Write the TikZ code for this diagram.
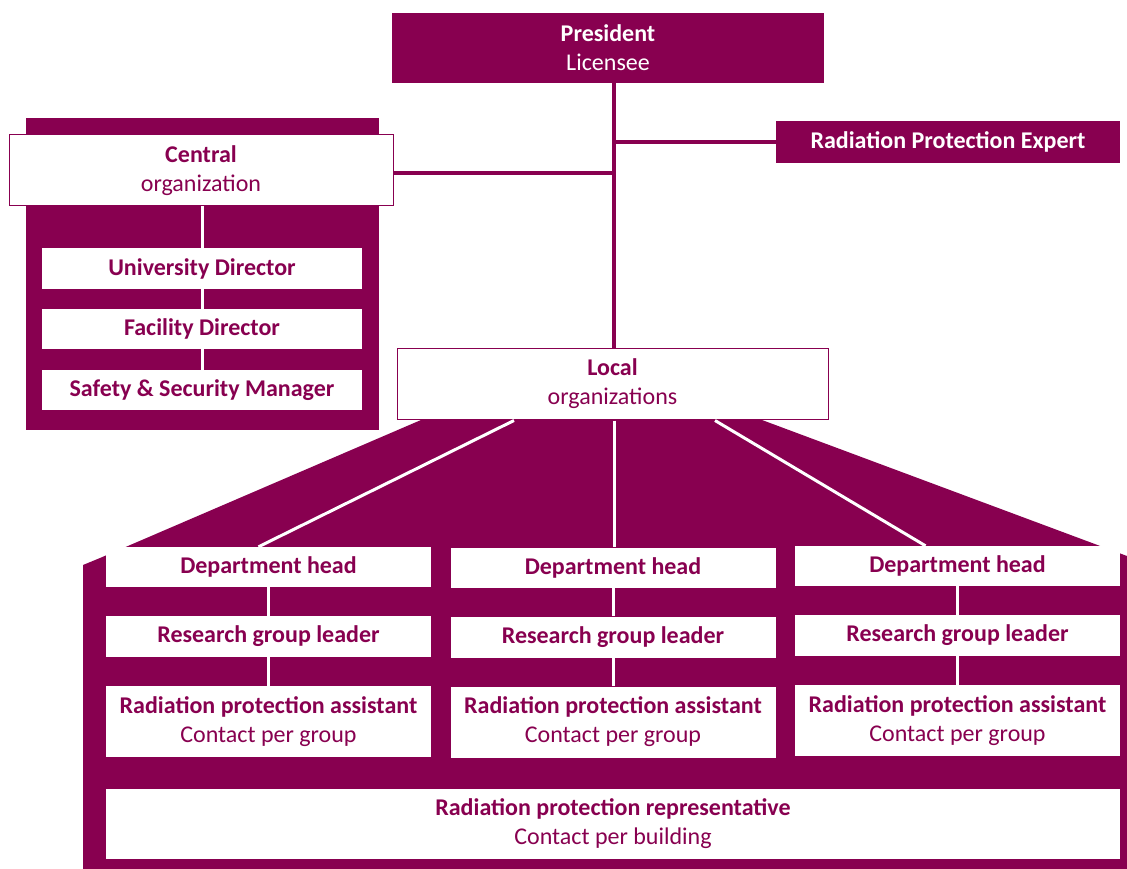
\documentclass[tikz,border=0pt]{standalone}
\usepackage{fontspec}
\setmainfont{Carlito}
\usetikzlibrary{calc}
\definecolor{plum}{RGB}{136,0,80}
\tikzset{
  darkbox/.style={fill=plum, text=white, inner sep=0pt, align=center, font=\fontsize{24}{29}\selectfont},
  whitebox/.style={fill=white, text=plum, inner sep=0pt, align=center, font=\fontsize{24}{29}\selectfont},
  framed/.style={whitebox, draw=plum, line width=1pt},
  darkline/.style={draw=plum, line width=4pt},
  whiteline/.style={draw=white, line width=3pt},
}
\begin{document}
\begin{tikzpicture}[x=1pt,y=-1pt]
\useasboundingbox (0,0) rectangle (1127,869);
% fan + bottom panel
\fill[plum] (83,869) -- (83,565) -- (100,558) -- (421,420) -- (762,420) -- (1127,556) -- (1127,869) -- cycle;
% central panel
\fill[plum] (26,118) rectangle (379,430);

\node[darkbox, minimum width=432pt, minimum height=70pt] (pres) at (608,48) {\textbf{President}\\Licensee};
\node[darkbox, minimum width=344pt, minimum height=42pt] (rpe) at (948,142) {\textbf{Radiation Protection Expert}};
\node[framed, minimum width=384pt, minimum height=71pt] (central) at (201,170.5) {\textbf{Central}\\organization};
\node[whitebox, minimum width=320pt, minimum height=41pt] (ud) at (202,268.5) {\textbf{University Director}};
\node[whitebox, minimum width=320pt, minimum height=40pt] (fd) at (202,329) {\textbf{Facility Director}};
\node[whitebox, minimum width=320pt, minimum height=40pt] (ssm) at (202,390) {\textbf{Safety \& Security Manager}};
\node[framed, minimum width=431pt, minimum height=71pt] (local) at (612.5,383.5) {\textbf{Local}\\organizations};

\foreach \i/\x/\dy in {1/268.5/0, 2/613/0.5, 3/957.5/-1} {
  \node[whitebox, minimum width=325pt, minimum height=40pt] (dh\i) at (\x,567+\dy) {\textbf{Department head}};
  \node[whitebox, minimum width=325pt, minimum height=41pt] (rg\i) at (\x,636.5+\dy) {\textbf{Research group leader}};
  \node[whitebox, minimum width=325pt, minimum height=71pt] (rpa\i) at (\x,721.5+\dy) {\textbf{Radiation protection assistant}\\Contact per group};
  \draw[whiteline] (dh\i.south) -- (rg\i.north);
  \draw[whiteline] (rg\i.south) -- (rpa\i.north);
}
\node[whitebox, minimum width=1014pt, minimum height=70pt] (rep) at (613,824) {\textbf{Radiation protection representative}\\Contact per building};

% connectors from president
\draw[darkline] (local.north) ++(1.5,0) coordinate (trunk) -- (trunk |- pres.south);
\draw[darkline] (rpe.west) -- (rpe.west -| trunk);
\draw[darkline] ($(central.east)+(0,2.5)$) -- ($(central.east -| trunk)+(0,2.5)$);

% central panel connectors
\draw[whiteline] (central.south -| ud.north) -- (ud.north);
\draw[whiteline] (ud.south) -- (fd.north);
\draw[whiteline] (fd.south) -- (ssm.north);

% fan connectors
\draw[whiteline] ($(local.south)+(-98.5,1)$) -- ($(dh1.north)+(-10,0)$);
\draw[whiteline] ($(local.south)+(1.5,1)$) -- ($(dh2.north)+(1,0)$);
\draw[whiteline] ($(local.south)+(102.5,1)$) -- ($(dh3.north)+(-32,0)$);
\end{tikzpicture}
\end{document}
